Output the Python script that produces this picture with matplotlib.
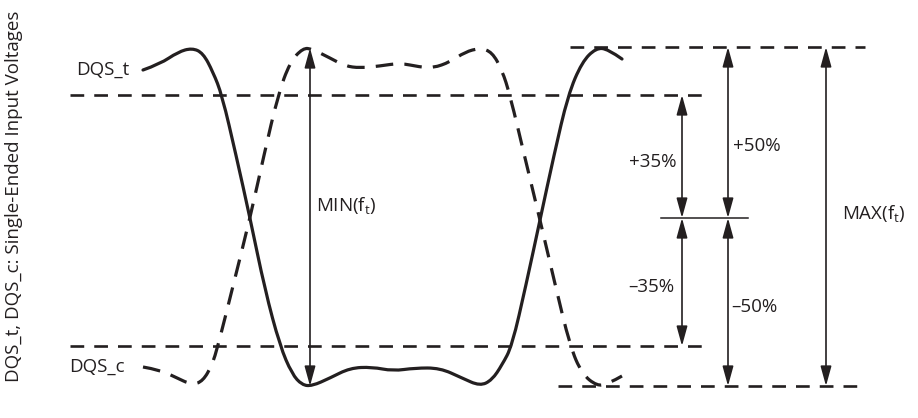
import matplotlib.pyplot as plt
from matplotlib.path import Path
from matplotlib.patches import PathPatch

plt.rcParams['font.family'] = ['Open Sans', 'DejaVu Sans']
plt.rcParams['mathtext.default'] = 'regular'

INK = '#231f20'

# waveform points (x, y in pixels, y down)
dqs_t_x = [143, 160, 178, 192, 203, 213, 222, 236, 250, 265, 280, 292, 302, 312, 330, 350,
           372, 393, 415, 440, 462, 480, 492, 502, 512, 526, 540, 554, 568, 582, 596, 608, 622]
dqs_t_y = [70, 64, 52, 48, 53, 72, 95, 155, 218, 290, 346, 374, 385, 386, 378, 368,
           367, 371, 368, 368, 378, 386, 380, 365, 346, 285, 220, 155, 95, 62, 48, 49, 59]

dqs_c_x = [143, 160, 175, 192, 203, 212, 218, 234, 250, 264, 278, 290, 303, 312, 330, 345,
           360, 380, 400, 420, 433, 450, 465, 480, 492, 502, 510, 525, 540, 555, 570, 582,
           597, 608, 622]
dqs_c_y = [367, 370, 377, 385, 381, 365, 346, 282, 218, 155, 95, 62, 48, 49, 58, 66,
           68, 66, 63, 67, 68, 62, 52, 48, 52, 70, 95, 158, 220, 284, 346, 374,
           386, 384, 376]

# reference levels: (y, x start, x end)
levels = [(95, 70, 704), (346, 70, 704), (47, 570, 865), (386, 558, 865)]
mid_level = (218, 661, 748)

# dimension arrows: (x, y top, y bottom)
arrows = [(310, 48, 386), (682, 95, 218), (682, 218, 346),
          (728, 47, 218), (728, 218, 386), (826, 47, 386)]


def smooth_path(xs, ys):
    pts = list(zip(xs, ys))
    verts = [pts[0]]
    codes = [Path.MOVETO]
    for i in range(1, len(pts) - 1):
        mid = ((pts[i][0] + pts[i + 1][0]) / 2, (pts[i][1] + pts[i + 1][1]) / 2)
        if i == len(pts) - 2:
            mid = pts[-1]
        verts += [pts[i], mid]
        codes += [Path.CURVE3, Path.CURVE3]
    return Path(verts, codes)


fig = plt.figure(figsize=(9.18, 4.18), dpi=100)
ax = fig.add_axes([0, 0, 1, 1])
ax.set_xlim(0, 918)
ax.set_ylim(418, 0)
ax.axis('off')

for y, x0, x1 in levels:
    ax.plot([x0, x1], [y, y], color=INK, lw=1.9, ls=(0, (5.2, 3.8)))
ax.plot([mid_level[1], mid_level[2]], [mid_level[0]] * 2, color=INK, lw=1.1)

ax.add_patch(PathPatch(smooth_path(dqs_t_x, dqs_t_y), fill=False, ec=INK, lw=2.3,
                       capstyle='round'))
ax.add_patch(PathPatch(smooth_path(dqs_c_x, dqs_c_y), fill=False, ec=INK, lw=2.3,
                       ls=(0, (5.5, 3.5))))

for x, y0, y1 in arrows:
    ax.annotate('', xy=(x, y1), xytext=(x, y0),
                arrowprops=dict(arrowstyle='<|-|>,head_length=0.8,head_width=0.22',
                                mutation_scale=15, color=INK, lw=1.2,
                                shrinkA=0, shrinkB=0))

fs = 13.5
ax.text(129, 70, 'DQS_t', ha='right', va='center', fontsize=fs, color=INK)
ax.text(125, 367, 'DQS_c', ha='right', va='center', fontsize=fs, color=INK)
ax.text(316, 205, 'MIN(f$_{t}$)', ha='left', va='center', fontsize=fs, color=INK)
ax.text(676, 162, '+35%', ha='right', va='center', fontsize=fs, color=INK)
ax.text(733, 146, '+50%', ha='left', va='center', fontsize=fs, color=INK)
ax.text(674, 287, '\u201335%', ha='right', va='center', fontsize=fs, color=INK)
ax.text(731, 307, '\u201350%', ha='left', va='center', fontsize=fs, color=INK)
ax.text(842, 214, 'MAX(f$_{t}$)', ha='left', va='center', fontsize=fs, color=INK)
ax.text(14, 196, 'DQS_t, DQS_c: Single-Ended Input Voltages', rotation=90,
        ha='center', va='center', fontsize=fs, color=INK)

fig.savefig('out.png', dpi=100, facecolor='white')
